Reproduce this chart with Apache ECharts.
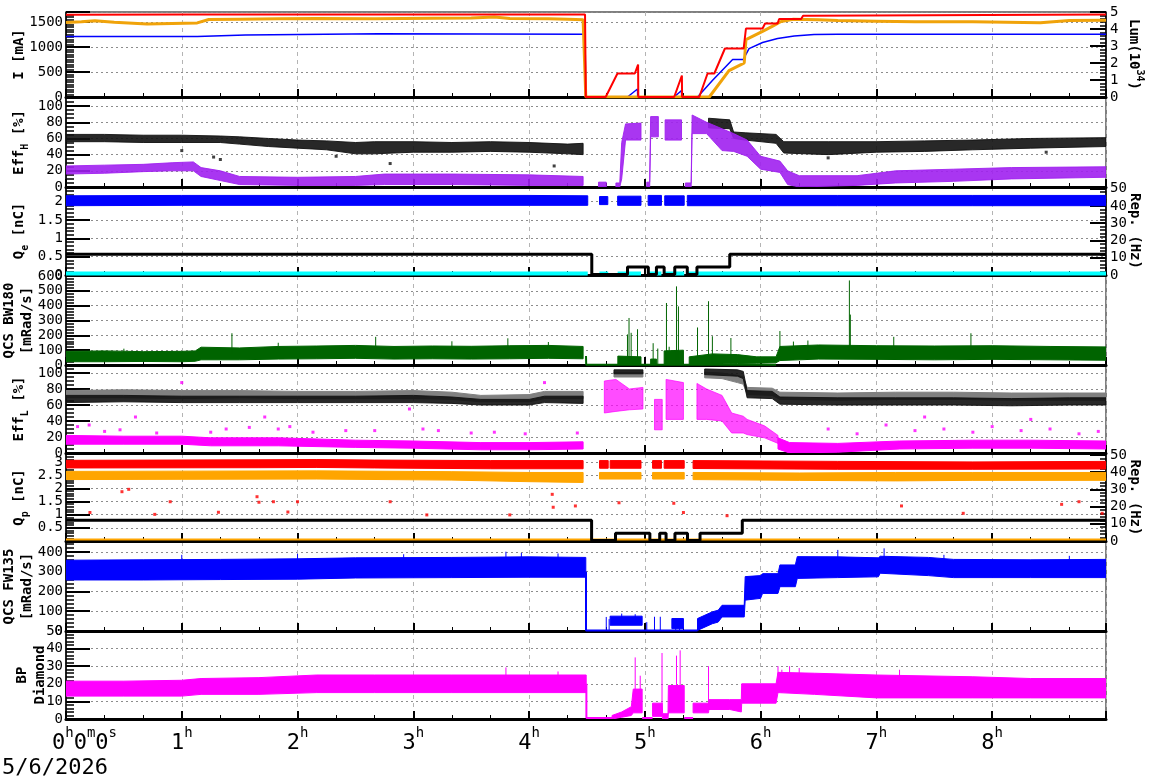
<!DOCTYPE html>
<html>
<head>
<meta charset="utf-8">
<script src="https://cdn.jsdelivr.net/npm/echarts@6.0.0/dist/echarts.min.js"></script>
<style>
html, body { margin: 0; padding: 0; background: #fff; }
#chart { width: 1172px; height: 782px; }
</style>
</head>
<body>
<div id="chart"></div>
<script>
// time in minutes from 0h
// bands are [t, lo, hi], lines are [t, v]; null = gap

const iRed = [[0,1645],[60,1648],[120,1650],[200,1650],[269,1650],[269.4,0],[279.7,0],[285.8,470],[294.8,470],[296.5,650],[296.6,0],[315.2,0],[319.2,430],[319.3,0],[328.2,0],[332.5,470],[336,470],[341.5,970],[351.2,970],[352.4,1370],[361,1370],[362.3,1470],[368.8,1470],[369.6,1560],[381,1560],[382,1625],[385,1625],[386,1650],[539,1650]];
const iBlue = [[0,1210],[68,1210],[68.5,1242],[93,1242],[93.5,1266],[162,1266],[162.5,1256],[269,1256],[269.4,0],[291,0],[296.2,160],[296.3,0],[315.2,0],[319,130],[319.1,0],[327.3,0],[335,330],[345.5,750],[351,750],[354,968],[361,1090],[368.8,1170],[377.4,1222],[387.7,1250],[400,1256],[539,1256]];
const lum = [[0,4.38],[8,4.42],[15,4.48],[25,4.4],[42,4.3],[55,4.33],[68,4.36],[74,4.56],[90,4.58],[110,4.6],[130,4.62],[160,4.6],[190,4.63],[210,4.64],[222,4.7],[230,4.62],[250,4.6],[260,4.58],[268,4.55],[269.4,0],[333.4,0],[343.6,1.55],[349.8,1.9],[351.5,2.0],[352.4,3.37],[361,3.86],[366,4.15],[370.6,4.44],[377,4.57],[390,4.55],[400,4.5],[420,4.46],[440,4.42],[470,4.43],[505,4.37],[520,4.5],[539,4.52]];

const effHBlack = [[0,56,65],[20,56,65],[40,55,64],[60,55,64],[80,55,63],[90,53,62],[105,50,60],[120,48,58],[135,46,57],[150,41,55],[160,41,56],[180,43,56],[200,43,55],[220,44,56],[240,43,55],[260,41,53],[268,40,54],null,[333,73,85],[344,72,83],[346,60,68],[352,58,67],[368,54,65],[372,42,56],[395,40,56],[420,43,56],[445,44,57],[470,46,58],[500,48,60],[539,50,61]];
const effHBlackOut = [[76.5,37],[80,34],[168,29],[253,26],[508,43],[60,45],[140,38],[395,36]];
const effHPurple = [[0,16,26],[20,17,27],[40,19,28],[55,20,30],[66,20,31],[70,13,24],[80,8,20],[90,3,13],[120,2,12],[150,2,13],[165,3,16],[200,3,16],[240,2,15],[268,2,13],null,[276,0,6],[280,0,6],null,[285,0,5],[287,0,5],[288,10,55],[290,58,78],[298,58,79],null,[301,0,6],[302.5,0,6],[303,62,87],[307,62,87],null,[310.5,58,83],[319,58,83],null,[321,0,5],[324,0,5],[324.5,66,89],[332,66,80],[340,45,72],[346,44,66],[353,38,58],[360,22,38],[370,18,32],[374,3,20],[380,0,14],[410,2,14],[430,5,20],[460,7,22],[490,10,24],[539,12,25]];

const qeBlue = [[0,1.89,2.16],[60,1.9,2.17],[120,1.9,2.17],[180,1.9,2.17],[240,1.9,2.17],[270.4,1.9,2.16],null,[276.5,1.92,2.14],[280.8,1.92,2.14],null,[285.9,1.9,2.15],[298,1.9,2.15],null,[301.7,1.9,2.17],[308.6,1.9,2.17],null,[310.3,1.9,2.16],[320.4,1.9,2.16],null,[322,1.89,2.17],[400,1.89,2.17],[470,1.89,2.17],[539,1.89,2.17]];
const qeCyan = [[0,0.04],[270.4,0.04],null,[276.5,0.04],[281,0.04],null,[285.9,0.04],[298,0.04],null,[301.8,0.04],[308.6,0.04],null,[310,0.04],[320.4,0.04],null,[322,0.04],[539,0.04]];
const repE = [[0,12],[272.5,12],[272.5,0.3],[291,0.3],[291,4.6],[301.8,4.6],[301.8,0.3],[306,0.3],[306,4.6],[310,4.6],[310,0.3],[315.5,0.3],[315.5,4.6],[322,4.6],[322,0.3],[327,0.3],[327,4.6],[344,4.6],[344,12],[539,12]];

const bw180 = [[0,22,92],[20,22,95],[40,24,90],[60,22,92],[67,25,95],[70,35,120],[90,35,115],[110,40,125],[130,42,128],[150,45,132],[170,40,125],[190,42,128],[210,40,126],[230,42,130],[250,45,132],[268,42,125],null,[286,0,60],[298,0,55],null,[303,0,40],[306,0,40],null,[310,0,95],[320,0,100],null,[323,0,55],[335,5,75],[348,10,70],[358,12,55],[368,15,55],[370,30,125],[390,40,135],[420,38,130],[450,35,128],[480,38,130],[510,35,125],[539,32,122]];
const bwZero = [[269.5,60],[269.6,1.5],[368,1.5]];
const bwSpikes = [[30,80,110],[86,80,214],[110,100,150],[160.5,100,190],[200,100,160],[229,100,180],[250,100,155],[291,30,206],[291.8,30,317],[292.9,30,217],[296.2,30,241],[304.3,0,147],[306.7,0,111],[311.2,0,418],[312.6,0,123],[316.4,0,530],[317.4,0,395],[327.3,0,253],[333,0,430],[335,0,194],[344.6,0,182],[370,60,229],[377,80,158],[384.5,80,165],[406,100,570],[406.5,100,340],[429,100,190],[469,100,214]];

const effLGray = [[0,69,78],[30,69,79],[60,68,78],[90,69,78],[120,68,77],[150,68,77],[180,68,78],[200,67,76],[215,64,72],[240,64,73],[248,68,77],[268,68,77],null,[284,95,101],[299,95,101],null,[331,94,101],[340,93,100],[348,88,97],[351,86,95],[353,73,82],[366,72,81],[370,67,76],[400,66,75],[430,67,76],[460,67,76],[490,66,75],[520,66,75],[539,66,75]];
const effLBlack = [[0,63,72],[30,64,72],[60,63,71],[90,63,71],[120,63,71],[150,63,71],[180,63,72],[200,62,70],[215,60,67],[240,60,67],[248,63,71],[268,62,71],null,[284,99,104],[299,99,104],null,[331,98,105],[348,96,104],[351,93,102],[353,69,78],[366,68,77],[370,61,70],[400,60,69],[430,60,69],[460,60,69],[490,59,68],[520,60,69],[539,60,69]];
const effLMag = [[0,11,22],[30,11,21],[60,11,21],[75,9,19],[110,9,19],[150,7,16],[180,6,15],[215,4,13],[240,4,13],[268,5,14],null,[369,5,19],[375,0,13],[400,1,12],[432,5,15],[470,6,16],[500,6,16],[539,5,15]];
const effLMagTr = [[279,50,90],[285,52,92],[292,54,80],[299,55,82],null,[305,29,67],[309,29,67],null,[311,42,92],[320,42,88],null,[327,42,87],[332,42,80],[340,40,72],[345,25,50],[351,25,46],[353,23,42],[362,19,34],[369,12,22]];
const effLMagOut = [[6,33],[12,35],[20,27],[28,29],[36,45],[47,25],[60,88],[75,26],[83,30],[95,32],[103,45],[110,30],[116,33],[128,26],[145,28],[160,28],[178,55],[185,30],[193,28],[210,25],[222,26],[238,24],[248,88],[265,25],[395,30],[410,24],[425,35],[440,28],[445,45],[455,30],[470,26],[480,33],[495,28],[500,42],[510,30],[525,24],[535,27]];

const qpRed = [[0,2.77,3.06],[100,2.78,3.08],[130,2.79,3.09],[160,2.77,3.07],[220,2.74,3.05],[268,2.74,3.05],null,[276.5,2.76,3.05],[281,2.76,3.05],null,[282,2.76,3.05],[298,2.76,3.05],null,[304,2.76,3.05],[308.6,2.76,3.05],null,[310,2.76,3.05],[320.4,2.76,3.05],null,[325,2.75,3.05],[400,2.72,3.02],[470,2.72,3.0],[539,2.73,3.02]];
const qpOrange = [[0,2.33,2.64],[60,2.34,2.65],[130,2.35,2.66],[200,2.31,2.63],[240,2.25,2.6],[268,2.22,2.6],null,[276.5,2.35,2.6],[298,2.35,2.6],null,[304,2.35,2.6],[320.4,2.35,2.6],null,[325,2.33,2.6],[380,2.3,2.58],[430,2.28,2.6],[470,2.3,2.6],[539,2.3,2.6]];
const qpRedOut = [[12.4,1.08],[29,1.87],[32.5,1.96],[46,1.01],[54,1.49],[79,1.09],[99,1.68],[100,1.47],[107.5,1.49],[115,1.1],[120,1.49],[168,1.49],[187,0.99],[230,0.99],[252,1.77],[252.5,1.28],[264,1.33],[286.6,1.45],[315,1.43],[320,1.08],[342.6,0.96],[433,1.33],[465,1.05],[516,1.39],[525,1.49],[537,1.05]];
const qpOrangeZero = [[0,0.06],[539,0.06]];
const repP = [[0,12],[272.4,12],[272.4,0.3],[284.8,0.3],[284.8,4.5],[302.6,4.5],[302.6,0.3],[307.7,0.3],[307.7,4.5],[311,4.5],[311,0.3],[315.6,0.3],[315.6,4.5],[322.1,4.5],[322.1,0.3],[328.6,0.3],[328.6,4.5],[350.5,4.5],[350.5,12],[539,12]];

const fw135 = [[0,258,358],[40,258,360],[80,260,362],[120,262,365],[150,268,370],[200,270,372],[240,272,375],[269.4,272,372],null,[282,29,75],[298.6,29,75],null,[314,12,63],[320,12,63],null,[327.3,3,63],[335,37,97],[338,45,105],[340,71,130],[351.5,71,130],[352,156,275],[360,165,280],[361,190,290],[369,190,290],[370,224,334],[378,224,334],[379,266,376],[400,270,375],[421,274,370],[422,292,378],[447,280,372],[460,270,362],[500,270,360],[539,270,362]];
const fwZero = [[269.5,300],[269.5,2],[327.3,2]];
const fwSpikes = [[60,340,385],[120,350,390],[175,355,388],[228,360,401],[236,360,395],[255,360,392],[280,0,71],[281.5,0,60],[288,40,88],[295,40,85],[301,0,45],[305,0,72],[308,0,72],[316,0,63],[318,0,60],[400,360,410],[424,360,418],[455,350,385],[520,350,380]];

const bpMag = [[0,13,21.5],[30,13,21.5],[60,13,22],[70,14,23],[100,14,23.5],[130,15,25],[160,15,25],[200,15,25],[240,15,25],[269.6,15,25],null,[283,0,2],[288,1,4],[293,2,7],[294,3.5,17],[298.6,3.5,17],null,[304,1.5,9],[309,1.5,9],[309.2,0,3],[312,0,3],[312.2,3.5,19],[320.4,3.5,19],null,[325,3.5,9],[333,3.5,9],[333.2,5.4,11],[344,5.4,11],[350,4,11],[350.2,9,20],[368,9,20],[369,15,26.5],[388,14,26],[420,12,25],[470,12,24],[500,12,23],[539,12,23]];
const bpZero = [[269.7,20],[269.7,0.5],[283,0.5],null,[298.6,0.5],[304,0.5],null,[320.4,0.5],[325,0.5]];
const bpSpikes = [[228,22,29.3],[255,22,27],[295,10,35],[297.6,10,24.6],[308.9,5,37.5],[316.4,10,36],[318.3,10,39],[333,5,30],[369,15,30],[371,15,28],[375,20,30],[380,20,29],[432,22,28]];

const hourTicks = [0, 1, 2, 3, 4, 5, 6, 7, 8];
const dateLabel = '5/6/2026';

const FONT = 'DejaVu Sans Mono';
// [top, height] of each panel
const panels = [[12,85],[98,89],[187,88],[276,89],[365,88],[454,87],[542,89],[631,88]];

const chart = echarts.init(document.getElementById('chart'));

const nameStyle = (lh) => ({
  fontFamily: FONT, fontWeight: 'bold', fontSize: 14, color: '#000', lineHeight: lh,
  rich: {
    sub: { fontFamily: FONT, fontWeight: 'bold', fontSize: 10, lineHeight: 10, verticalAlign: 'bottom', color: '#000' },
    sup: { fontFamily: FONT, fontWeight: 'bold', fontSize: 10, lineHeight: 10, verticalAlign: 'top', color: '#000' }
  }
});

function yAxisOf(gi, o, right) {
  return {
    type: 'value', gridIndex: gi, position: right ? 'right' : 'left',
    min: o.min, max: o.max, interval: o.interval,
    name: o.name, nameLocation: 'middle', nameGap: o.gap, nameRotate: right ? -90 : 90,
    nameMoveOverlap: false,
    nameTextStyle: nameStyle(o.lh || 22),
    axisLine: { show: true, lineStyle: { color: '#000', width: 1.5 } },
    axisTick: { show: true, inside: true, length: right ? 16 : 24, lineStyle: { color: '#000', width: 2 } },
    minorTick: { show: true, splitNumber: o.minor, length: right ? 6 : 8, lineStyle: { color: '#000', width: 1.5 } },
    splitLine: { show: !right, lineStyle: { color: '#8c8c8c', type: [2, 3], width: 1 } },
    axisLabel: {
      fontFamily: FONT, fontSize: 14, color: '#000', margin: right ? 4 : 3,
      showMaxLabel: o.showMax, formatter: (v) => String(v)
    }
  };
}

const yAxes = [
  yAxisOf(0, { min: 0, max: 1700, interval: 500, minor: 10, name: 'I [mA]', gap: 36, showMax: false }),
  yAxisOf(1, { min: 0, max: 110, interval: 20, minor: 4, name: 'Eff{sub|H} [%]', gap: 36, showMax: false }),
  yAxisOf(2, { min: 0, max: 2.4, interval: 0.5, minor: 5, name: 'Q{sub|e} [nC]', gap: 36, showMax: false }),
  yAxisOf(3, { min: 0, max: 600, interval: 100, minor: 5, name: 'QCS BW180\n[mRad/s]', gap: 30, lh: 18, showMax: true }),
  yAxisOf(4, { min: 0, max: 110, interval: 20, minor: 4, name: 'Eff{sub|L} [%]', gap: 36, showMax: false }),
  yAxisOf(5, { min: 0, max: 3.3, interval: 0.5, minor: 5, name: 'Q{sub|p} [nC]', gap: 36, showMax: false }),
  yAxisOf(6, { min: 0, max: 450, interval: 100, minor: 5, name: 'QCS FW135\n[mRad/s]', gap: 30, lh: 18, showMax: false }),
  yAxisOf(7, { min: 0, max: 50, interval: 10, minor: 5, name: 'BP\nDiamond', gap: 17, lh: 18, showMax: true }),
  yAxisOf(0, { min: 0, max: 5, interval: 1, minor: 5, name: 'Lum(10{sup|34})', gap: 17, showMax: true }, true),
  yAxisOf(2, { min: 0, max: 51, interval: 10, minor: 5, name: 'Rep. (Hz)', gap: 18, showMax: false }, true),
  yAxisOf(5, { min: 0, max: 50.5, interval: 10, minor: 5, name: 'Rep. (Hz)', gap: 18, showMax: false }, true)
];

const xAxes = panels.map((p, i) => ({
  type: 'value', gridIndex: i, min: 0, max: 539, interval: 60,
  axisLine: { show: true, onZero: false, lineStyle: { color: '#000', width: 3 } },
  axisTick: { show: true, inside: true, length: 8, lineStyle: { color: '#000', width: 2 } },
  minorTick: { show: true, splitNumber: 3, length: 4, lineStyle: { color: '#000', width: 1 } },
  splitLine: { show: true, lineStyle: { color: '#b4b4b4', type: [4, 4], width: 1 } },
  axisLabel: i === 7 ? {
    show: true, margin: 7, showMaxLabel: false,
    formatter: (v) => v === 0
      ? '{pad| }{d|0}{s|h}{d|0}{s|m}{d|0}{s|s}'
      : '{d|' + hourTicks[v / 60] + '}{s|h}',
    rich: {
      pad: { width: 37 },
      d: { fontFamily: FONT, fontSize: 22, lineHeight: 34, color: '#000' },
      s: { fontFamily: FONT, fontSize: 14, lineHeight: 14, verticalAlign: 'top', color: '#000' }
    }
  } : { show: false }
}));

const gaps = (arr) => arr.map((d, i) => d === null ? [arr[i - 1][0], null] : d);

function line(gi, yi, data, color, width) {
  return {
    type: 'line', xAxisIndex: gi, yAxisIndex: yi, data: gaps(data),
    showSymbol: false, connectNulls: false, silent: true,
    lineStyle: { color, width }, itemStyle: { color }
  };
}

function band(gi, yi, data, color, opacity) {
  const segs = [];
  let cur = [];
  data.forEach(d => {
    if (d === null) { if (cur.length) segs.push(cur); cur = []; }
    else cur.push(d);
  });
  if (cur.length) segs.push(cur);
  return {
    type: 'custom', xAxisIndex: gi, yAxisIndex: yi, clip: true, silent: true,
    encode: { x: 0, y: 1 },
    data: segs.map(s => [s[0][0], s[0][1]]),
    renderItem: (params, api) => {
      const s = segs[params.dataIndex];
      const pts = s.map(d => api.coord([d[0], d[2]]));
      for (let k = s.length - 1; k >= 0; k--) pts.push(api.coord([s[k][0], s[k][1]]));
      return {
        type: 'polygon', shape: { points: pts },
        style: { fill: color, stroke: color, lineWidth: 1, opacity: opacity || 1 }
      };
    }
  };
}

function spikes(gi, yi, data, color) {
  return {
    type: 'custom', xAxisIndex: gi, yAxisIndex: yi, clip: true, silent: true,
    encode: { x: 0, y: 1 },
    data: data,
    renderItem: (params, api) => {
      const a = api.coord([api.value(0), api.value(1)]);
      const b = api.coord([api.value(0), api.value(2)]);
      return { type: 'line', shape: { x1: a[0], y1: a[1], x2: b[0], y2: b[1] }, style: { stroke: color, lineWidth: 1 } };
    }
  };
}

function dots(gi, yi, data, color) {
  return {
    type: 'scatter', xAxisIndex: gi, yAxisIndex: yi, data, silent: true,
    symbol: 'rect', symbolSize: 3, itemStyle: { color }
  };
}

const option = {
  animation: false,
  backgroundColor: '#fff',
  title: {
    text: dateLabel, left: 2, top: 757, padding: 0,
    textStyle: { fontFamily: FONT, fontSize: 22, fontWeight: 'normal', color: '#000' }
  },
  grid: panels.map(([top, h]) => ({
    left: 66, right: 66, top, height: h, show: true, borderColor: '#000', borderWidth: 1,
    containLabel: false, outerBoundsMode: 'none'
  })),
  xAxis: xAxes,
  yAxis: yAxes,
  series: [
    line(0, 0, iBlue, '#0000ff', 1.5),
    line(0, 8, lum, '#f0a30a', 3),
    line(0, 0, iRed, '#ff0000', 2),

    band(1, 1, effHBlack, '#111111', 0.9),
    dots(1, 1, effHBlackOut, '#111111'),
    band(1, 1, effHPurple, '#a020f0', 0.9),

    band(2, 2, qeBlue, '#0000ff'),
    line(2, 2, qeCyan, '#00ffff', 4),
    line(2, 9, repE, '#000000', 3),

    line(3, 3, bwZero, '#006400', 2),
    band(3, 3, bw180, '#006400'),
    spikes(3, 3, bwSpikes, '#006400'),

    band(4, 4, effLGray, '#808080'),
    band(4, 4, effLBlack, '#111111', 0.9),
    band(4, 4, effLMag, '#ff00ff'),
    band(4, 4, effLMagTr, '#ff00ff', 0.7),
    dots(4, 4, effLMagOut, '#ff00ff'),

    band(5, 5, qpRed, '#ff0000'),
    band(5, 5, qpOrange, '#ffa500'),
    dots(5, 5, qpRedOut, '#ff0000'),
    line(5, 5, qpOrangeZero, '#ffa500', 2),
    line(5, 10, repP, '#000000', 3),

    line(6, 6, fwZero, '#0000ff', 2),
    band(6, 6, fw135, '#0000ff'),
    spikes(6, 6, fwSpikes, '#0000ff'),

    line(7, 7, bpZero, '#ff00ff', 2),
    band(7, 7, bpMag, '#ff00ff'),
    spikes(7, 7, bpSpikes, '#ff00ff')
  ]
};

chart.setOption(option);
</script>
</body>
</html>
